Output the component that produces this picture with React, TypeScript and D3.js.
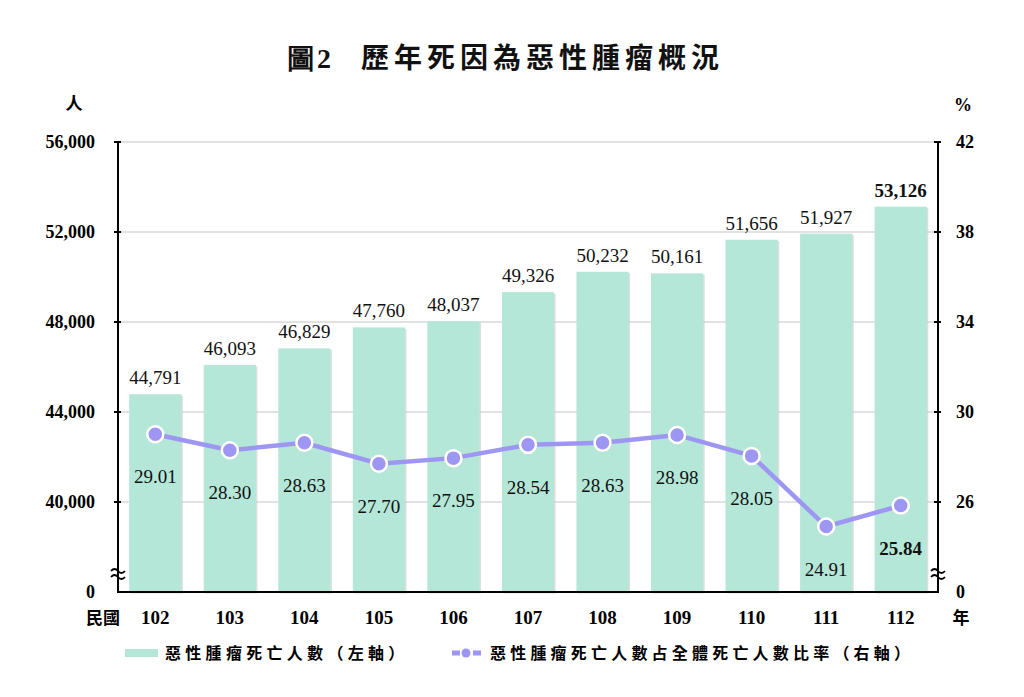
import React from "react";
import * as d3 from "d3";

const years = ["102", "103", "104", "105", "106", "107", "108", "109", "110", "111", "112"];
const deaths = [44791, 46093, 46829, 47760, 48037, 49326, 50232, 50161, 51656, 51927, 53126];
const rates = [29.01, 28.3, 28.63, 27.7, 27.95, 28.54, 28.63, 28.98, 28.05, 24.91, 25.84];
const leftTicks = [40000, 44000, 48000, 52000, 56000];
const rightTicks = [26, 30, 34, 38, 42];

const W = 1024, H = 697;
const L = 118, R = 938, T = 142, B = 592;
const serif = "'Liberation Serif','Times New Roman',serif";
const cjk = "'Noto Sans CJK TC','Noto Sans CJK SC',sans-serif";

export default function App() {
  const x = d3.scaleBand<string>().domain(years).range([L, R]).paddingInner(0.3).paddingOuter(0.15);
  const yL = d3.scaleLinear().domain([36000, 56000]).range([B, T]);
  const yR = d3.scaleLinear().domain([22, 42]).range([B, T]);
  const fmt = d3.format(",");
  const line = d3.line<number>().x((_, i) => x(years[i])! + x.bandwidth() / 2).y((d) => yR(d));
  const last = years.length - 1;
  const breakY = 573;
  const brk = (cx: number) =>
    `M${cx - 7},${breakY - 2} q3.5,-4 7,0 t7,0 M${cx - 7},${breakY + 4} q3.5,-4 7,0 t7,0`;

  return (
    <svg width={W} height={H} style={{ display: "block", position: "absolute", left: 0, top: 0 }}>
      <rect width={W} height={H} fill="#fff" />
      <text x={287} y={68} textAnchor="start" fontSize={28} fontWeight="bold" fontFamily={cjk} fill="#111" letterSpacing={5}>
        <tspan fontFamily={serif} letterSpacing={2}>圖2</tspan>
        <tspan dx={28}>歷年死因為惡性腫瘤概況</tspan>
      </text>
      <text x={74} y={110} textAnchor="middle" fontSize={17} fontWeight="bold" fontFamily={cjk}>人</text>
      <text x={963} y={111} textAnchor="middle" fontSize={18} fontWeight="bold" fontFamily={serif}>%</text>

      {leftTicks.map((t) => (
        <line key={"g" + t} x1={L} x2={R} y1={yL(t)} y2={yL(t)} stroke="#d9d9d9" strokeWidth={1.5} />
      ))}

      {deaths.map((d, i) => (
        <g key={"b" + i}>
          <rect x={x(years[i])! + 1.5} y={yL(d) + 1.5} width={x.bandwidth()} height={B - yL(d)} fill="#c8c8c8" opacity={0.6} />
          <rect x={x(years[i])!} y={yL(d)} width={x.bandwidth()} height={B - yL(d)} fill="#b4e7d7" />
          <text x={x(years[i])! + x.bandwidth() / 2} y={yL(d) - 10} textAnchor="middle" fontSize={19}
            fontFamily={serif} fontWeight={i === last ? "bold" : "normal"} fill="#111">{fmt(d)}</text>
        </g>
      ))}

      <path d={line(rates)!} fill="none" stroke="#9d96f2" strokeWidth={4.5} />
      {rates.map((r, i) => (
        <g key={"p" + i}>
          <circle cx={x(years[i])! + x.bandwidth() / 2} cy={yR(r)} r={8} fill="#9d96f2" stroke="#fff" strokeWidth={2.5} />
          <text x={x(years[i])! + x.bandwidth() / 2} y={yR(r) + 49} textAnchor="middle" fontSize={19}
            fontFamily={serif} fontWeight={i === last ? "bold" : "normal"} fill="#111">{r.toFixed(2)}</text>
        </g>
      ))}

      <line x1={L} x2={L} y1={T} y2={B} stroke="#000" strokeWidth={2} />
      <line x1={R} x2={R} y1={T} y2={B} stroke="#000" strokeWidth={2} />
      <line x1={L - 1} x2={R + 1} y1={B} y2={B} stroke="#000" strokeWidth={2} />
      {leftTicks.map((t) => (
        <g key={"lt" + t}>
          <line x1={L - 4} x2={L + 3} y1={yL(t)} y2={yL(t)} stroke="#000" strokeWidth={2} />
          <text x={95} y={yL(t) + 6} textAnchor="end" fontSize={18} fontWeight="bold" fontFamily={serif}>{fmt(t)}</text>
        </g>
      ))}
      <text x={95} y={B + 6} textAnchor="end" fontSize={18} fontWeight="bold" fontFamily={serif}>0</text>
      {rightTicks.map((t) => (
        <g key={"rt" + t}>
          <line x1={R - 4} x2={R + 3} y1={yR(t)} y2={yR(t)} stroke="#000" strokeWidth={2} />
          <text x={956} y={yR(t) + 6} textAnchor="start" fontSize={18} fontWeight="bold" fontFamily={serif}>{t}</text>
        </g>
      ))}
      <text x={956} y={B + 6} textAnchor="start" fontSize={18} fontWeight="bold" fontFamily={serif}>0</text>
      <path d={brk(L)} fill="none" stroke="#000" strokeWidth={1.8} />
      <path d={brk(R)} fill="none" stroke="#000" strokeWidth={1.8} />

      {years.map((y) => (
        <text key={"x" + y} x={x(y)! + x.bandwidth() / 2} y={624} textAnchor="middle" fontSize={19}
          fontWeight="bold" fontFamily={serif}>{y}</text>
      ))}
      <text x={103} y={624} textAnchor="middle" fontSize={17} fontWeight="bold" fontFamily={cjk}>民國</text>
      <text x={961} y={624} textAnchor="middle" fontSize={17} fontWeight="bold" fontFamily={cjk}>年</text>

      <rect x={125} y={649} width={33} height={8} fill="#b4e7d7" />
      <text x={165} y={659} fontSize={16} fontWeight="bold" fontFamily={cjk} letterSpacing={4.3}>惡性腫瘤死亡人數（左軸）</text>
      <line x1={452} x2={481} y1={653} y2={653} stroke="#9d96f2" strokeWidth={5} strokeDasharray="8 13" />
      <circle cx={466} cy={653} r={4.5} fill="#9d96f2" />
      <text x={490} y={659} fontSize={16} fontWeight="bold" fontFamily={cjk} letterSpacing={4.2}>惡性腫瘤死亡人數占全體死亡人數比率（右軸）</text>
    </svg>
  );
}
